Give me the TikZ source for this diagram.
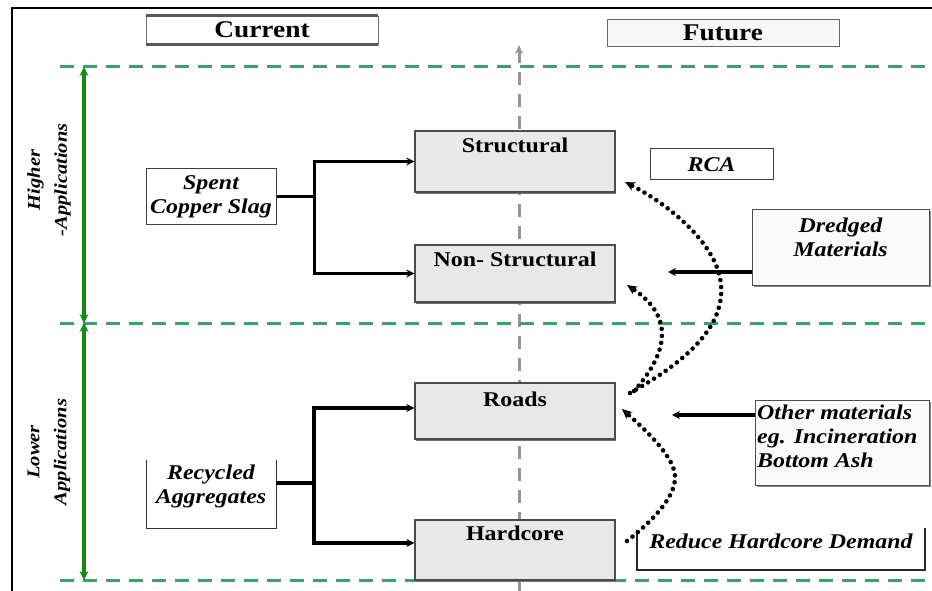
\documentclass[tikz,border=0pt]{standalone}
\usepackage{fontspec}
\setmainfont{Liberation Serif}[FakeStretch=1.14]
\usetikzlibrary{arrows.meta,shadows}

\definecolor{leveldash}{RGB}{58,160,108}
\definecolor{levelarrow}{RGB}{20,135,20}
\newcommand\headfont{\fontsize{24}{26}\selectfont\bfseries}
\newcommand\boxfont{\fontsize{21}{24}\selectfont\bfseries}
\newcommand\srcfont{\fontsize{21}{24}\selectfont\bfseries\itshape}
\newcommand\sidefont{\fontsize{18}{27}\selectfont\bfseries\itshape}

\begin{document}
\begin{tikzpicture}[x=1pt,y=-1pt,
  leveldashline/.style={leveldash, line width=3pt, dash pattern=on 14pt off 9pt},
  levelspan/.style={levelarrow, line width=3.2pt, {Stealth[length=9pt,width=9pt]}-{Stealth[length=9pt,width=9pt]}},
  axisline/.style={black!42, line width=3pt, dash pattern=on 13pt off 9pt, -{Stealth[length=9pt,width=8pt]}},
  catbox/.style={draw=black!70, line width=1.3pt, fill=black!9, minimum width=200pt,
    drop shadow={shadow xshift=1pt, shadow yshift=-1.5pt, fill=black!55, opacity=1}},
  cattext/.style={font=\boxfont, inner sep=0pt},
  srcbox/.style={draw=black!75, line width=1pt, fill=white, align=center, font=\srcfont, inner sep=0pt},
  shadebox/.style={draw=black!70, line width=1pt, fill=black!2, inner sep=0pt,
    drop shadow={shadow xshift=2pt, shadow yshift=-2pt, fill=black!45, opacity=1}},
  feed/.style={black, line width=3.6pt, -{Stealth[length=8pt,width=8pt]}},
  branch/.style={black, line width=3.6pt},
  dotflow/.style={black, line width=4.6pt, line cap=round, dash pattern=on 0pt off 7pt,
    -{Stealth[length=10pt,width=9pt]}},
]
\useasboundingbox (0,0) rectangle (932,591);

% outer frame
\draw[line width=2pt] (12,591) -- (12,8) -- (932,8);

% column headers
\node[draw=black!55, line width=0.8pt, minimum width=232pt, minimum height=28pt,
      font=\headfont, inner sep=0pt] (cur) at (262,30) {Current};
\draw[black!65, line width=2.6pt] (cur.north west) -- (cur.north east);
\draw[black!65, line width=2.6pt] (cur.south west) -- (cur.south east);
\node[draw=black!60, line width=0.8pt, fill=black!3, minimum width=232pt, minimum height=27pt,
      font=\headfont, inner sep=0pt] (fut) at (723,32.5) {Future};

% vertical axis between current and future
\coordinate (axbot) at (519,591);
\coordinate (axtop) at (519,45);
\draw[axisline] (axbot) -- (axtop);

% level boundaries
\coordinate (l0w) at (60,67);  \coordinate (l0e) at (932,67);
\coordinate (l1w) at (60,323); \coordinate (l1e) at (932,323);
\coordinate (l2w) at (60,580); \coordinate (l2e) at (932,580);
\draw[leveldashline] (l0w) -- (l0e);
\draw[leveldashline] (l1w) -- (l1e);
\draw[leveldashline] (l2w) -- (l2e);

% level spans
\coordinate (s0) at (84,67);
\coordinate (s1) at (84,323);
\coordinate (s2) at (84,580);
\draw[levelspan] (s0) -- (s1);
\draw[levelspan] (s1) -- (s2);
\node[rotate=90, align=center, font=\sidefont, inner sep=0pt] (hi) at (49,180) {Higher\\-Applications};
\node[rotate=90, align=center, font=\sidefont, inner sep=0pt] (lo) at (49,452) {Lower\\Applications};

% application categories
\node[catbox, minimum height=61pt] (struct) at (515,161.5) {};
\node[cattext] (structt) at (515,145) {Structural};
\node[catbox, minimum height=57pt] (nonstruct) at (515,273.5) {};
\node[cattext] (nonstructt) at (515,259) {Non- Structural};
\node[catbox, minimum height=56pt] (roads) at (515,411) {};
\node[cattext] (roadst) at (515,399) {Roads};
\node[catbox, minimum height=60pt] (hard) at (515,550) {};
\node[cattext] (hardt) at (515,533) {Hardcore};

% current sources
\node[srcbox, minimum width=130pt, minimum height=55pt] (slag) at (211,196.5) {Spent\\Copper Slag};
\node[align=center, font=\srcfont, inner sep=0pt, minimum width=130pt] (recyc) at (211,486) {Recycled\\Aggregates};
\draw[black!80, line width=1pt] (146,460) -- (146,528) -- (276,528) -- (276,460);

\draw[branch] (slag.east) -- ++(38,0) coordinate (j1);
\draw[feed] (j1) |- (struct.west);
\draw[feed] (j1) |- (nonstruct.west);

\draw[branch] ([yshift=3pt]recyc.east) -- ++(38,0) coordinate (j2);
\draw[feed] (j2) |- ([yshift=3pt]roads.west);
\draw[feed] (j2) |- ([yshift=7pt]hard.west);

% future sources
\node[srcbox, minimum width=123pt, minimum height=31pt] (rca) at (711.5,164.5) {RCA};
\node[shadebox, minimum width=177pt, minimum height=76pt] (dredged) at (840.5,247) {};
\node[align=center, font=\srcfont, inner sep=0pt] (dredgedt) at (840.5,237) {Dredged\\Materials};
\node[shadebox, minimum width=174pt, minimum height=85pt] (other) at (842,442.5) {};
\node[align=left, font=\srcfont, inner sep=0pt, anchor=west] (othert) at (757,436)
  {Other materials\\eg. Incineration\\Bottom Ash};
\node[font=\srcfont, inner sep=0pt] (reduce) at (781,541) {Reduce Hardcore Demand};
\draw[black!85, line width=1.4pt] (637,530) -- (637,570) -- (925,570) -- (925,528);

\coordinate (dredin) at (668,272);
\draw[feed] ([yshift=-25pt]dredged.west) -- (dredin);
\coordinate (othin) at (672,415);
\draw[feed] ([yshift=27.5pt]other.west) -- (othin);

% upgrade paths
\coordinate (ra) at (630,393);
\coordinate (rb) at (634,391);
\coordinate (sa) at (625,182);
\coordinate (na) at (627,285);
\coordinate (ha) at (627,541);
\coordinate (rc) at (622,409);
\draw[dotflow] (ra) .. controls (680,365) and (725,330) .. (721,285)
                    .. controls (718,245) and (670,205) .. (sa);
\draw[dotflow] (rb) .. controls (675,345) and (668,312) .. (na);
\draw[dotflow] (ha) .. controls (660,515) and (680,490) .. (674,470)
                    .. controls (668,450) and (640,425) .. (rc);
\end{tikzpicture}
\end{document}
